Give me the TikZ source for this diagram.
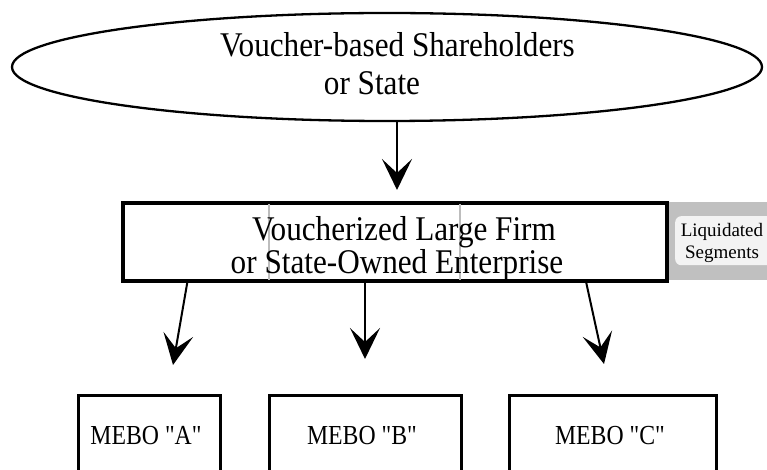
\documentclass[tikz,border=0pt]{standalone}
\usepackage{graphicx}
\usepackage{fontspec}
\setmainfont{Liberation Serif}
\newfontfamily\mebofont{Liberation Serif}[Ligatures=TeXOff]
\usetikzlibrary{arrows.meta,shapes.geometric,calc}
\definecolor{liqgray}{HTML}{C0C0C0}
\definecolor{liqin}{HTML}{F3F3F3}
\definecolor{seam}{HTML}{BDBDBD}
\newcommand{\tallbig}[1]{\scalebox{0.99}[1.1]{#1}}
\newcommand{\tallmebo}[1]{\scalebox{0.95}[1.1]{#1}}
\begin{document}
\begin{tikzpicture}[x=1pt,y=-1pt,
  bigtxt/.style={font=\fontsize{31.5}{36}\selectfont, inner sep=0pt, anchor=base},
  mebotxt/.style={font=\mebofont\fontsize{25}{30}\selectfont, inner sep=0pt, anchor=base},
  liqtxt/.style={font=\fontsize{19}{22}\selectfont, inner sep=0pt, anchor=base},
  mebobox/.style={draw, line width=3pt, anchor=north west, minimum height=110pt, inner sep=0pt},
  arr/.style={line width=2pt, -{Stealth[length=31pt, width=30pt, inset=14pt]}},
  seamline/.style={draw=seam, line width=1.8pt}
]
\clip (0,0) rectangle (767,470);
\useasboundingbox (0,0) rectangle (767,470);

% source ellipse
\node[ellipse, draw, line width=2.3pt, minimum width=750pt, minimum height=108pt, inner sep=0pt] (src) at (387,67) {};
\node[bigtxt] (srcA) at (397.5,57) {\tallbig{Voucher-based Shareholders}};
\node[bigtxt] (srcB) at (372,95) {\tallbig{or State}};

% liquidated segments
\node[fill=liqgray, anchor=north west, minimum width=101pt, minimum height=78pt, inner sep=0pt] (liq) at (666,202) {};
\node[fill=liqin, rounded corners=6pt, anchor=north west, minimum width=100pt, minimum height=49pt, inner sep=0pt] (liqin) at (675,216) {};
\node[liqtxt] (liqA) at (722,236) {Liquidated};
\node[liqtxt] (liqB) at (722,258) {Segments};

% firm
\node[draw, fill=white, line width=3.5pt, minimum width=544pt, minimum height=78pt, inner sep=0pt] (firm) at (395,242) {};
\draw[seamline] (269,204) -- (269,280);
\draw[seamline] (460,204) -- (460,280);
\node[bigtxt] (firmA) at (404,240) {\tallbig{Voucherized Large Firm}};
\node[bigtxt] (firmB) at (397,273) {\tallbig{or State-Owned Enterprise}};

% MEBO boxes
\node[mebobox, minimum width=142pt] (mA) at (77,394) {};
\node[mebobox, minimum width=192pt] (mB) at (268,394) {};
\node[mebobox, minimum width=207pt] (mC) at (508,394) {};
\node[mebotxt] (tA) at (146,444) {\tallmebo{MEBO "A"}};
\node[mebotxt] (tB) at (362,444) {\tallmebo{MEBO "B"}};
\node[mebotxt] (tC) at (610,444) {\tallmebo{MEBO "C"}};

% arrows
\coordinate (tipS) at (397,190);
\coordinate (tipA) at (173,365);
\coordinate (tipB) at (365,359);
\coordinate (tipC) at (604,364);
\draw[arr] (src.south -| tipS) -- (tipS);
\draw[arr] ($(firm.south west)+(66,0)$) -- (tipA);
\draw[arr] (firm.south -| tipB) -- (tipB);
\draw[arr] ($(firm.south west)+(465,0)$) -- (tipC);
\end{tikzpicture}
\end{document}
